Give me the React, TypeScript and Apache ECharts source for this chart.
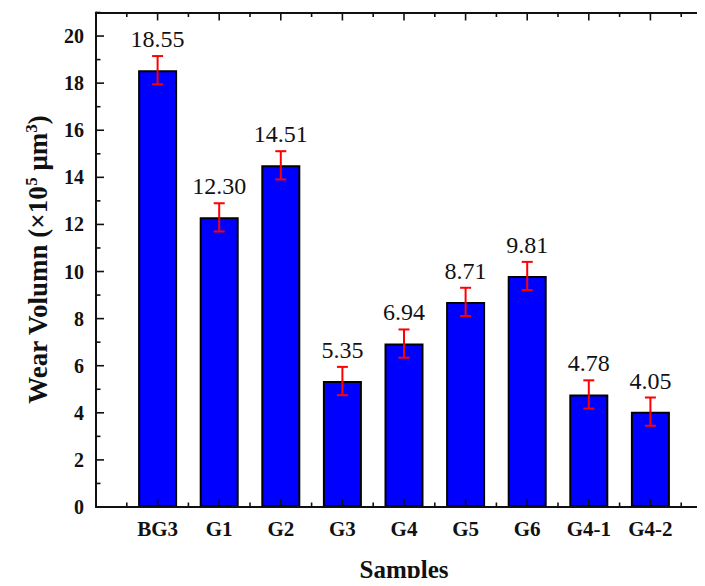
import React, { useEffect, useRef } from "react";
import * as echarts from "echarts";

// Sample names along the x axis (placed at positions 1..9)
const samples = ["BG3", "G1", "G2", "G3", "G4", "G5", "G6", "G4-1", "G4-2"];
// Mean wear volume (×10^5 μm³)
const wearVolume = [18.55, 12.3, 14.51, 5.35, 6.94, 8.71, 9.81, 4.78, 4.05];
// Standard deviation for each sample
const wearError = [0.6, 0.6, 0.6, 0.6, 0.6, 0.6, 0.6, 0.6, 0.6];
// Y tick range
const yMin = 0;
const yMax = 21;
const yStep = 2;
// Inward frame tick positions (whole numbers are major ticks)
const xTickMarks = [0, 0.5, 1, 1.5, 2, 2.5, 3, 3.5, 4, 4.5, 5, 5.5, 6, 6.5, 7, 7.5, 8, 8.5, 9, 9.5, 10];
const yTickMarks = [0, 1, 2, 3, 4, 5, 6, 7, 8, 9, 10, 11, 12, 13, 14, 15, 16, 17, 18, 19, 20, 21];

const FONT = "'Liberation Serif', 'Times New Roman', serif";

const W = 705;
const H = 586;
// The right edge of the frame runs just past the canvas
const GRID = { left: 96, right: -7, top: 12.5, bottom: 79 };

const MAJOR_LEN = 8;
const MINOR_LEN = 4.5;
const TICK_STYLE = { stroke: "#111", lineWidth: 1.6 };

const frameLine = () => ({ show: true, onZero: false, lineStyle: { color: "#111", width: 2 } });

export default function App() {
  const ref = useRef<HTMLDivElement>(null);

  useEffect(() => {
    if (!ref.current) return;
    const chart = echarts.init(ref.current, undefined, { renderer: "svg" });

    const barData = wearVolume.map((v, i) => [i + 1, v]);
    const errData = wearVolume.map((v, i) => [i + 1, v, wearError[i]]);

    const baseX = {
      type: "value",
      z: 3,
      min: 0,
      max: samples.length + 1,
      interval: 1,
      axisLine: frameLine(),
      axisTick: { show: false },
      splitLine: { show: false },
    };
    const baseY = {
      type: "value",
      z: 3,
      min: yMin,
      max: yMax,
      interval: yStep,
      axisLine: frameLine(),
      axisTick: { show: false },
      splitLine: { show: false },
    };

    chart.setOption({
      animation: false,
      backgroundColor: "#fff",
      grid: { ...GRID, containLabel: false, outerBoundsMode: "none" },
      xAxis: [
        {
          ...baseX,
          position: "bottom",
          axisLabel: {
            margin: 11,
            color: "#111",
            fontFamily: FONT,
            fontWeight: "bold",
            fontSize: 21,
            formatter: (v: number) => samples[v - 1] ?? "",
          },
          name: "Samples",
          nameLocation: "middle",
          nameGap: 50,
          nameTextStyle: { color: "#111", fontFamily: FONT, fontWeight: "bold", fontSize: 25 },
        },
        { ...baseX, position: "top", axisLabel: { show: false } },
      ],
      yAxis: [
        {
          ...baseY,
          position: "left",
          axisLabel: {
            margin: 12,
            color: "#111",
            fontFamily: FONT,
            fontWeight: "bold",
            fontSize: 20,
            formatter: (v: number) => (v > 20 ? "" : String(v)),
          },
          name: "{t|Wear Volumn (×10}{s|5}{t| μm}{s|3}{t|)}",
          nameLocation: "middle",
          nameGap: 44,
          nameTextStyle: {
            color: "#111",
            rich: {
              t: { fontFamily: FONT, fontWeight: "bold", fontSize: 27, color: "#111" },
              s: { fontFamily: FONT, fontWeight: "bold", fontSize: 17, color: "#111", verticalAlign: "top", padding: [0, 0, 12, 0] },
            },
          },
        },
        { ...baseY, position: "right", axisLabel: { show: false } },
      ],
      series: [
        {
          type: "bar",
          xAxisIndex: 0,
          yAxisIndex: 0,
          data: barData,
          barWidth: 39,
          itemStyle: { color: "#0000ff", borderColor: "#000", borderWidth: 2 },
          z: 2,
        },
        {
          // error bars and value labels
          type: "custom",
          xAxisIndex: 0,
          yAxisIndex: 0,
          data: errData,
          z: 5,
          renderItem: (_params: any, api: any) => {
            const x = api.value(0);
            const v = api.value(1);
            const e = api.value(2);
            const top = api.coord([x, v + e]);
            const bot = api.coord([x, v - e]);
            const half = 5.5;
            const style = { stroke: "#ff0000", lineWidth: 2 };
            return {
              type: "group",
              children: [
                { type: "line", shape: { x1: top[0], y1: top[1], x2: bot[0], y2: bot[1] }, style },
                { type: "line", shape: { x1: top[0] - half, y1: top[1], x2: top[0] + half, y2: top[1] }, style },
                { type: "line", shape: { x1: bot[0] - half, y1: bot[1], x2: bot[0] + half, y2: bot[1] }, style },
                {
                  type: "text",
                  x: top[0],
                  y: top[1] - 5,
                  style: {
                    text: v.toFixed(2),
                    fontFamily: FONT,
                    fontSize: 24,
                    fill: "#111",
                    align: "center",
                    verticalAlign: "bottom",
                  },
                },
              ],
            };
          },
        },
        {
          // inward ticks on the top and bottom frame edges
          type: "custom",
          xAxisIndex: 0,
          yAxisIndex: 0,
          silent: true,
          z: 4,
          data: xTickMarks.map((t) => [t, 0]),
          renderItem: (params: any, api: any) => {
            const t = api.value(0);
            const px = api.coord([t, 0])[0];
            const cs = params.coordSys;
            const len = Number.isInteger(t) ? MAJOR_LEN : MINOR_LEN;
            const yb = cs.y + cs.height;
            return {
              type: "group",
              children: [
                { type: "line", shape: { x1: px, y1: yb, x2: px, y2: yb - len }, style: TICK_STYLE },
                { type: "line", shape: { x1: px, y1: cs.y, x2: px, y2: cs.y + len }, style: TICK_STYLE },
              ],
            };
          },
        },
        {
          // inward ticks on the left and right frame edges
          type: "custom",
          xAxisIndex: 0,
          yAxisIndex: 0,
          silent: true,
          z: 4,
          data: yTickMarks.map((t) => [0, t]),
          renderItem: (params: any, api: any) => {
            const t = api.value(1);
            const py = api.coord([0, t])[1];
            const cs = params.coordSys;
            const len = t % yStep === 0 ? MAJOR_LEN : MINOR_LEN;
            const xr = cs.x + cs.width;
            return {
              type: "group",
              children: [
                { type: "line", shape: { x1: cs.x, y1: py, x2: cs.x + len, y2: py }, style: TICK_STYLE },
                { type: "line", shape: { x1: xr, y1: py, x2: xr - len, y2: py }, style: TICK_STYLE },
              ],
            };
          },
        },
      ],
    });

    return () => chart.dispose();
  }, []);

  return <div ref={ref} style={{ width: W, height: H, margin: -8 }} />;
}
